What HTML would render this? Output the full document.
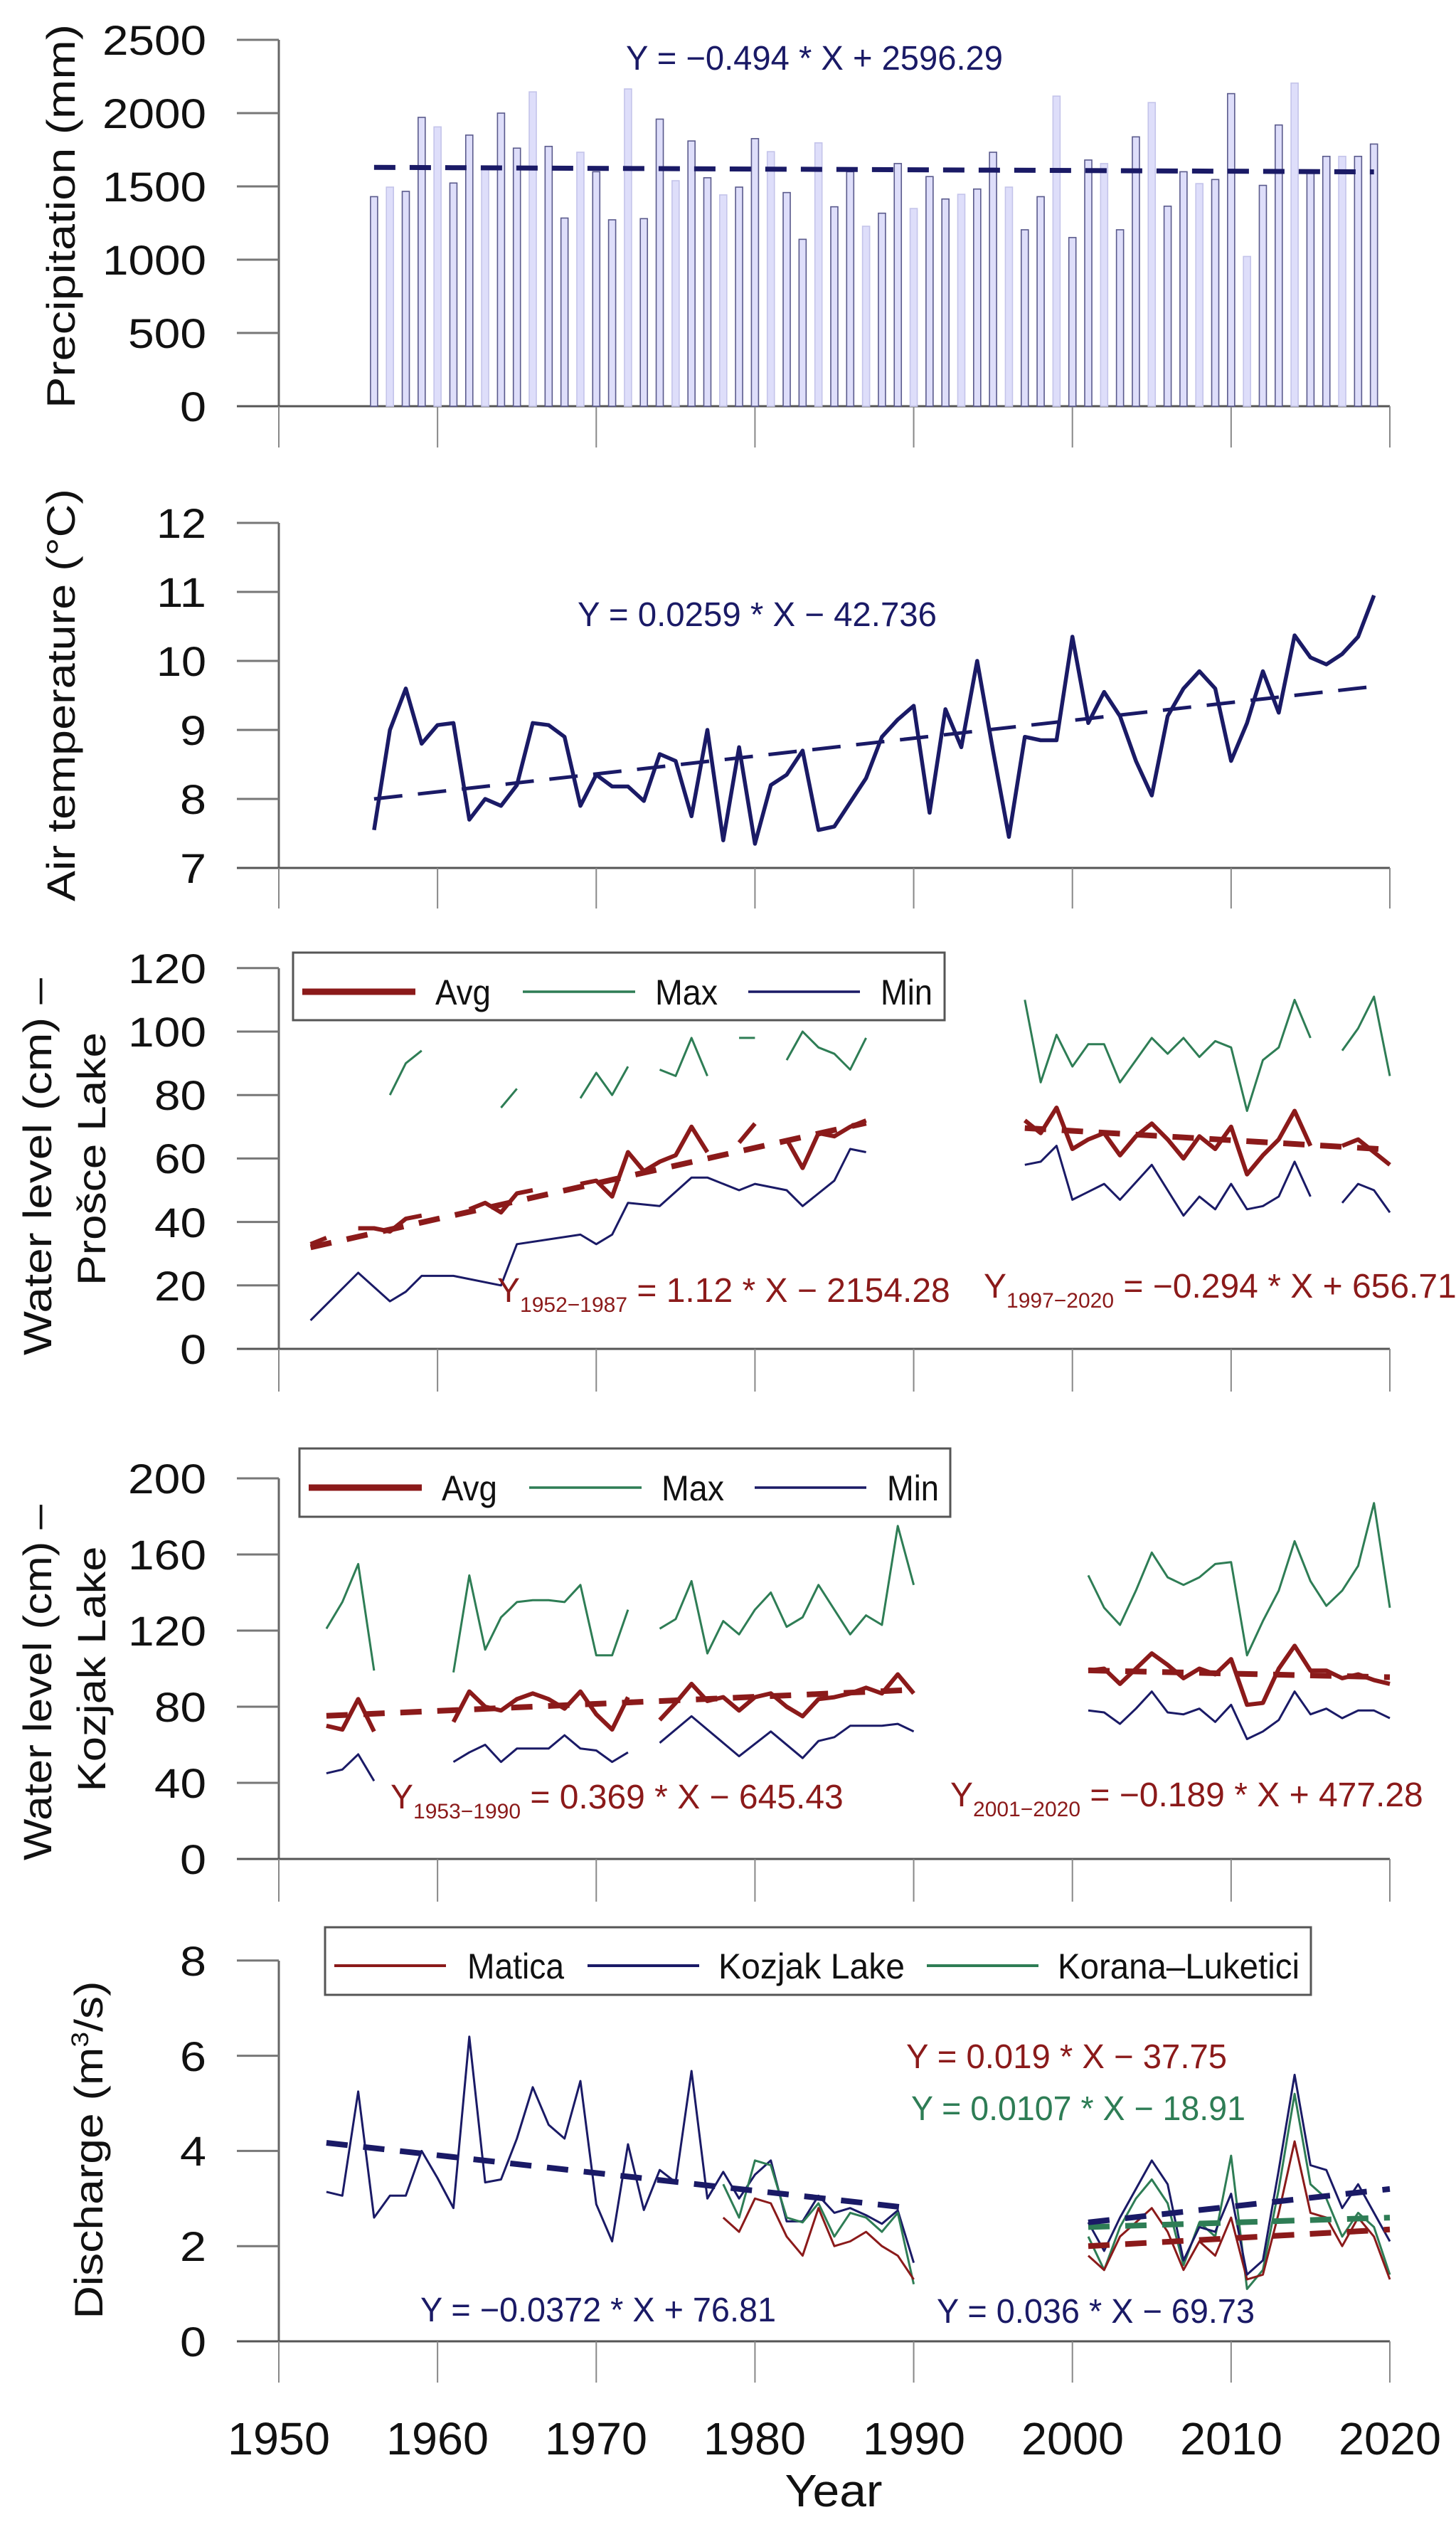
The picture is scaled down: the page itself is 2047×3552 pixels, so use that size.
<!DOCTYPE html>
<html><head><meta charset="utf-8"><style>
html,body{margin:0;padding:0;background:#fff;width:2047px;height:3552px;overflow:hidden}
svg{display:block}
text{font-family:"Liberation Sans",sans-serif}
.tk{font-size:58px;fill:#111;text-anchor:end}
.yr{font-size:64px;fill:#111;text-anchor:middle}
.at{font-size:56px;fill:#111;text-anchor:middle}
.eq{font-size:48px}
.lg{font-size:50px;fill:#111}
</style></head><body>
<svg id="s" width="2047" height="3552" viewBox="0 0 2047 3552" xmlns="http://www.w3.org/2000/svg">
<g id="g"></g>
<text class="tk" x="290" y="592" textLength="37" lengthAdjust="spacingAndGlyphs">0</text>
<text class="tk" x="290" y="489" textLength="110" lengthAdjust="spacingAndGlyphs">500</text>
<text class="tk" x="290" y="386" textLength="146" lengthAdjust="spacingAndGlyphs">1000</text>
<text class="tk" x="290" y="283" textLength="146" lengthAdjust="spacingAndGlyphs">1500</text>
<text class="tk" x="290" y="180" textLength="146" lengthAdjust="spacingAndGlyphs">2000</text>
<text class="tk" x="290" y="77" textLength="146" lengthAdjust="spacingAndGlyphs">2500</text>
<text class="tk" x="290" y="1241" textLength="37" lengthAdjust="spacingAndGlyphs">7</text>
<text class="tk" x="290" y="1144" textLength="37" lengthAdjust="spacingAndGlyphs">8</text>
<text class="tk" x="290" y="1047" textLength="37" lengthAdjust="spacingAndGlyphs">9</text>
<text class="tk" x="290" y="950" textLength="70" lengthAdjust="spacingAndGlyphs">10</text>
<text class="tk" x="290" y="853" textLength="70" lengthAdjust="spacingAndGlyphs">11</text>
<text class="tk" x="290" y="756" textLength="70" lengthAdjust="spacingAndGlyphs">12</text>
<text class="tk" x="290" y="1917" textLength="37" lengthAdjust="spacingAndGlyphs">0</text>
<text class="tk" x="290" y="1828" textLength="73" lengthAdjust="spacingAndGlyphs">20</text>
<text class="tk" x="290" y="1739" textLength="73" lengthAdjust="spacingAndGlyphs">40</text>
<text class="tk" x="290" y="1649" textLength="73" lengthAdjust="spacingAndGlyphs">60</text>
<text class="tk" x="290" y="1560" textLength="73" lengthAdjust="spacingAndGlyphs">80</text>
<text class="tk" x="290" y="1471" textLength="110" lengthAdjust="spacingAndGlyphs">100</text>
<text class="tk" x="290" y="1382" textLength="110" lengthAdjust="spacingAndGlyphs">120</text>
<text class="tk" x="290" y="2634" textLength="37" lengthAdjust="spacingAndGlyphs">0</text>
<text class="tk" x="290" y="2527" textLength="73" lengthAdjust="spacingAndGlyphs">40</text>
<text class="tk" x="290" y="2420" textLength="73" lengthAdjust="spacingAndGlyphs">80</text>
<text class="tk" x="290" y="2313" textLength="110" lengthAdjust="spacingAndGlyphs">120</text>
<text class="tk" x="290" y="2206" textLength="110" lengthAdjust="spacingAndGlyphs">160</text>
<text class="tk" x="290" y="2099" textLength="110" lengthAdjust="spacingAndGlyphs">200</text>
<text class="tk" x="290" y="3312" textLength="37" lengthAdjust="spacingAndGlyphs">0</text>
<text class="tk" x="290" y="3178" textLength="37" lengthAdjust="spacingAndGlyphs">2</text>
<text class="tk" x="290" y="3044" textLength="37" lengthAdjust="spacingAndGlyphs">4</text>
<text class="tk" x="290" y="2911" textLength="37" lengthAdjust="spacingAndGlyphs">6</text>
<text class="tk" x="290" y="2777" textLength="37" lengthAdjust="spacingAndGlyphs">8</text>
<text class="yr" x="392" y="3450" textLength="144" lengthAdjust="spacingAndGlyphs">1950</text>
<text class="yr" x="615" y="3450" textLength="144" lengthAdjust="spacingAndGlyphs">1960</text>
<text class="yr" x="838" y="3450" textLength="144" lengthAdjust="spacingAndGlyphs">1970</text>
<text class="yr" x="1061" y="3450" textLength="144" lengthAdjust="spacingAndGlyphs">1980</text>
<text class="yr" x="1285" y="3450" textLength="144" lengthAdjust="spacingAndGlyphs">1990</text>
<text class="yr" x="1508" y="3450" textLength="144" lengthAdjust="spacingAndGlyphs">2000</text>
<text class="yr" x="1731" y="3450" textLength="144" lengthAdjust="spacingAndGlyphs">2010</text>
<text class="yr" x="1954" y="3450" textLength="144" lengthAdjust="spacingAndGlyphs">2020</text>
<text class="yr" x="1172" y="3523" textLength="137" lengthAdjust="spacingAndGlyphs">Year</text>
<text class="at" transform="translate(105,304) rotate(-90)" textLength="540" lengthAdjust="spacingAndGlyphs">Precipitation (mm)</text>
<text class="at" transform="translate(105,977) rotate(-90)" textLength="580" lengthAdjust="spacingAndGlyphs">Air temperature (°C)</text>
<text class="at" transform="translate(72,1640) rotate(-90)" textLength="530" lengthAdjust="spacingAndGlyphs">Water level (cm) –</text>
<text class="at" transform="translate(148,1629) rotate(-90)" textLength="356" lengthAdjust="spacingAndGlyphs">Prošce Lake</text>
<text class="at" transform="translate(72,2365) rotate(-90)" textLength="500" lengthAdjust="spacingAndGlyphs">Water level (cm) –</text>
<text class="at" transform="translate(148,2346) rotate(-90)" textLength="345" lengthAdjust="spacingAndGlyphs">Kozjak Lake</text>
<text class="at" transform="translate(144,3022) rotate(-90)" textLength="475" lengthAdjust="spacingAndGlyphs">Discharge (m<tspan font-size="34" dy="-20">3</tspan><tspan dy="20">/s)</tspan></text>
<text class="eq" x="880" y="98" fill="#1a1a66" textLength="530" lengthAdjust="spacingAndGlyphs">Y = −0.494 * X + 2596.29</text>
<text class="eq" x="812" y="880" fill="#1a1a66" textLength="505" lengthAdjust="spacingAndGlyphs">Y = 0.0259 * X − 42.736</text>
<text class="eq" x="699" y="1830" fill="#8b1a1a" font-size="52">Y<tspan font-size="30" dy="14">1952−1987</tspan><tspan dy="-14"> = 1.12 * X − 2154.28</tspan></text>
<text class="eq" x="1383" y="1824" fill="#8b1a1a" font-size="52">Y<tspan font-size="30" dy="14">1997−2020</tspan><tspan dy="-14"> = −0.294 * X + 656.71</tspan></text>
<text class="eq" x="549" y="2542" fill="#8b1a1a" font-size="52">Y<tspan font-size="30" dy="14">1953−1990</tspan><tspan dy="-14"> = 0.369 * X − 645.43</tspan></text>
<text class="eq" x="1336" y="2539" fill="#8b1a1a" font-size="52">Y<tspan font-size="30" dy="14">2001−2020</tspan><tspan dy="-14"> = −0.189 * X + 477.28</tspan></text>
<text class="eq" x="1274" y="2907" fill="#8b1a1a" textLength="451" lengthAdjust="spacingAndGlyphs">Y = 0.019 * X − 37.75</text>
<text class="eq" x="1281" y="2980" fill="#2e7d55" textLength="470" lengthAdjust="spacingAndGlyphs">Y = 0.0107 * X − 18.91</text>
<text class="eq" x="591" y="3263" fill="#1a1a66" textLength="500" lengthAdjust="spacingAndGlyphs">Y = −0.0372 * X + 76.81</text>
<text class="eq" x="1317" y="3265" fill="#1a1a66" textLength="447" lengthAdjust="spacingAndGlyphs">Y = 0.036 * X − 69.73</text>
<rect x="412" y="1339" width="916" height="95" fill="#fff" stroke="#555" stroke-width="3"/>
<line x1="425" y1="1394" x2="584" y2="1394" stroke="#8b1a1a" stroke-width="9"/>
<text class="lg" x="612" y="1412" textLength="78" lengthAdjust="spacingAndGlyphs">Avg</text>
<line x1="735" y1="1394" x2="893" y2="1394" stroke="#2e7d55" stroke-width="3.5"/>
<text class="lg" x="921" y="1412" textLength="88" lengthAdjust="spacingAndGlyphs">Max</text>
<line x1="1052" y1="1394" x2="1209" y2="1394" stroke="#1a1a66" stroke-width="3.5"/>
<text class="lg" x="1238" y="1412" textLength="73" lengthAdjust="spacingAndGlyphs">Min</text>
<rect x="421" y="2036" width="915" height="96" fill="#fff" stroke="#555" stroke-width="3"/>
<line x1="434" y1="2091" x2="593" y2="2091" stroke="#8b1a1a" stroke-width="9"/>
<text class="lg" x="621" y="2109" textLength="78" lengthAdjust="spacingAndGlyphs">Avg</text>
<line x1="744" y1="2091" x2="902" y2="2091" stroke="#2e7d55" stroke-width="3.5"/>
<text class="lg" x="930" y="2109" textLength="88" lengthAdjust="spacingAndGlyphs">Max</text>
<line x1="1061" y1="2091" x2="1218" y2="2091" stroke="#1a1a66" stroke-width="3.5"/>
<text class="lg" x="1247" y="2109" textLength="73" lengthAdjust="spacingAndGlyphs">Min</text>
<rect x="457" y="2709" width="1386" height="95" fill="#fff" stroke="#555" stroke-width="3"/>
<line x1="470" y1="2763" x2="627" y2="2763" stroke="#8b1a1a" stroke-width="4"/>
<text class="lg" x="657" y="2781" textLength="136" lengthAdjust="spacingAndGlyphs">Matica</text>
<line x1="826" y1="2763" x2="983" y2="2763" stroke="#1a1a66" stroke-width="4"/>
<text class="lg" x="1010" y="2781" textLength="262" lengthAdjust="spacingAndGlyphs">Kozjak Lake</text>
<line x1="1303" y1="2763" x2="1460" y2="2763" stroke="#2e7d55" stroke-width="4"/>
<text class="lg" x="1487" y="2781" textLength="340" lengthAdjust="spacingAndGlyphs">Korana–Luketici</text>
</svg>
<script>
(function(){
var NS="http://www.w3.org/2000/svg",g=document.getElementById("g");
function el(t,a){var e=document.createElementNS(NS,t);for(var k in a)e.setAttribute(k,a[k]);g.appendChild(e);return e;}
function X(y){return 392+(y-1950)*22.314;}
var panels=[
 {ax:571,top:56,Y:function(v){return 571-v*0.206;},ticks:[0,500,1000,1500,2000,2500],tl:58},
 {ax:1220,top:735,Y:function(v){return 1220-(v-7)*97;},ticks:[7,8,9,10,11,12],tl:57},
 {ax:1896,top:1361,Y:function(v){return 1896-v*4.46;},ticks:[0,20,40,60,80,100,120],tl:60},
 {ax:2613,top:2078,Y:function(v){return 2613-v*2.675;},ticks:[0,40,80,120,160,200],tl:60},
 {ax:3291,top:2756,Y:function(v){return 3291-v*66.9;},ticks:[0,2,4,6,8],tl:58}];
panels.forEach(function(p){
 el("line",{x1:392,y1:p.top,x2:392,y2:p.ax,stroke:"#666","stroke-width":3});
 p.ticks.forEach(function(t){var y=p.Y(t);el("line",{x1:333,y1:y,x2:392,y2:y,stroke:"#777","stroke-width":3});});
 el("line",{x1:333,y1:p.ax,x2:1954,y2:p.ax,stroke:"#555","stroke-width":3});
 for(var d=1950;d<=2020;d+=10){var x=X(d);el("line",{x1:x,y1:p.ax,x2:x,y2:p.ax+p.tl,stroke:"#888","stroke-width":2});}
});
function line(pts,P,c,w,dash){
 var d="";pts.forEach(function(q,i){d+=(i?"L":"M")+X(q[0]).toFixed(1)+","+P.Y(q[1]).toFixed(1);});
 var a={d:d,fill:"none",stroke:c,"stroke-width":w,"stroke-linejoin":"round"};if(dash)a["stroke-dasharray"]=dash;el("path",a);}
function seq(start,vals){return vals.map(function(v,i){return [start+i,v];});}
var R="#8b1a1a",N="#1a1a66",G="#2e7d55";
var pr=[1430,1495,1466,1971,1906,1523,1850,1636,2000,1761,2145,1773,1284,1733,1600,1272,2165,1280,1959,1539,1810,1559,1442,1495,1826,1737,1458,1139,1797,1361,1600,1228,1317,1656,1349,1567,1414,1446,1482,1733,1495,1204,1430,2116,1151,1680,1656,1204,1838,2072,1365,1600,1519,1547,2133,1022,1507,1919,2205,1600,1705,1705,1705,1789];
pr.forEach(function(v,i){var yr=1956+i,x=X(yr),y=panels[0].Y(v);
 el("rect",{x:x-5,y:y,width:10,height:571-y,fill:"#dedefa",stroke:(i%3==1?"#c4c4ea":"#5a5a8c"),"stroke-width":1.6});});
line([[1956,2596.29-0.494*1956],[2019,2596.29-0.494*2019]],panels[0],N,7,"30 20");
var tp=[7.55,9.0,9.6,8.8,9.07,9.1,7.7,8.0,7.9,8.2,9.1,9.07,8.9,7.9,8.35,8.18,8.18,7.97,8.65,8.55,7.75,9.0,7.4,8.75,7.35,8.2,8.35,8.7,7.55,7.6,7.95,8.3,8.9,9.15,9.35,7.8,9.3,8.75,10.0,8.7,7.45,8.9,8.85,8.85,10.35,9.1,9.55,9.2,8.55,8.05,9.2,9.6,9.85,9.6,8.55,9.1,9.85,9.25,10.37,10.05,9.95,10.1,10.35,10.95];
line([[1956,8.0],[2019,9.63]],panels[1],N,5,"40 22");
line(seq(1956,tp),panels[1],N,5.5);
var P3=panels[2];
line([[1952,9],[1955,24],[1957,15],[1958,18],[1959,23],[1961,23],[1964,20],[1965,33],[1969,36],[1970,33],[1971,36],[1972,46],[1974,45],[1976,54],[1977,54],[1979,50],[1980,52],[1982,50],[1983,45],[1985,53],[1986,63],[1987,62]],P3,N,3);
line([[1997,58],[1998,59],[1999,64],[2000,47],[2002,52],[2003,47],[2005,58],[2007,42],[2008,48],[2009,44],[2010,52],[2011,44],[2012,45],[2013,48],[2014,59],[2015,48]],P3,N,3);
line([[2017,46],[2018,52],[2019,50],[2020,43]],P3,N,3);
[[[1957,80],[1958,90],[1959,94]],[[1964,76],[1965,82]],[[1969,79],[1970,87],[1971,80],[1972,89]],[[1974,88],[1975,86],[1976,98],[1977,86]],[[1979,98],[1980,98]],[[1982,91],[1983,100],[1984,95],[1985,93],[1986,88],[1987,98]],
 [[1997,110],[1998,84],[1999,99],[2000,89],[2001,96],[2002,96],[2003,84],[2004,91],[2005,98],[2006,93],[2007,98],[2008,92],[2009,97],[2010,95],[2011,75],[2012,91],[2013,95],[2014,110],[2015,98]],[[2017,94],[2018,101],[2019,111],[2020,86]]].forEach(function(s){line(s,P3,G,3);});
[[[1952,33],[1953,35]],[[1955,38],[1956,38],[1957,37],[1958,41],[1959,42]],[[1962,44],[1963,46],[1964,43],[1965,49],[1966,50]],[[1969,52],[1970,53],[1971,48],[1972,62],[1973,56],[1974,59],[1975,61],[1976,70],[1977,62]],[[1979,65],[1980,71]],[[1982,66],[1983,57],[1984,68],[1985,67],[1986,70],[1987,72]],
 [[1997,72],[1998,68],[1999,76],[2000,63],[2001,66],[2002,68],[2003,61],[2004,67],[2005,71],[2006,66],[2007,60],[2008,67],[2009,63],[2010,70],[2011,55],[2012,61],[2013,66],[2014,75],[2015,64]],[[2017,64],[2018,66],[2019,62],[2020,58]]].forEach(function(s){line(s,P3,R,6);});
line([[1952,32],[1987,71.2]],P3,R,8,"30 22");
line([[1997,69.6],[2020,62.8]],P3,R,8,"30 22");
var P4=panels[3];
[[[1953,121],[1954,135],[1955,155],[1956,99]],seq(1961,[98,149,110,127,135,136,136,135,144,107,107,131]),seq(1974,[121,126,146,108,125,118,131,140,122,127,144,131,118,128,123,175,144]),seq(2001,[149,132,123,141,161,148,144,148,155,156,107,125,141,167,146,133,141,154,187,132])].forEach(function(s){line(s,P4,G,3);});
[[[1953,45],[1954,47],[1955,55],[1956,41]],seq(1961,[51,56,60,51,58,58,58,65,58,57,51,56]),[[1974,61],[1976,75],[1977,68],[1979,54],[1981,67],[1983,53],[1984,62],[1985,64],[1986,70],[1988,70],[1989,71],[1990,67]],seq(2001,[78,77,71,79,88,77,76,79,72,81,63,67,73,88,76,79,74,78,78,74])].forEach(function(s){line(s,P4,N,3);});
[seq(1953,[70,68,84,67]),seq(1961,[72,88,80,78,84,87,84,79,88,76,68,85]),seq(1974,[73,82,92,83,85,78,85,87,80,75,84,85,87,90,87,97,87]),seq(2001,[99,100,92,100,108,102,95,100,97,105,81,82,100,112,99,99,95,97,94,92])].forEach(function(s){line(s,P4,R,6);});
line([[1953,75.2],[1990,88.9]],P4,R,8,"30 22");
line([[2001,99.1],[2020,95.5]],P4,R,8,"30 22");
var P5=panels[4];
line(seq(1953,[3.14,3.06,5.25,2.6,3.06,3.06,4.0,3.43,2.8,6.4,3.34,3.4,4.26,5.34,4.55,4.26,5.47,2.88,2.1,4.14,2.76,3.6,3.34,5.68,3.0,3.56,3.0,3.5,3.8,2.52,2.52,3.06,2.7,2.8,2.65,2.47,2.75,1.65]),P5,N,3);
line(seq(1978,[3.3,2.6,3.8,3.7,2.6,2.5,2.9,2.2,2.7,2.6,2.3,2.7,1.2]),P5,G,3);
line(seq(1978,[2.6,2.3,3.0,2.9,2.2,1.8,2.8,2.0,2.1,2.3,2.0,1.8,1.3]),P5,R,3);
line(seq(2001,[2.2,1.5,2.4,3.0,3.4,2.9,1.6,2.5,2.2,3.9,1.1,1.5,3.2,5.2,3.3,3.0,2.2,2.7,2.4,1.4]),P5,G,3);
line(seq(2001,[1.8,1.5,2.2,2.5,2.8,2.3,1.5,2.1,1.8,2.6,1.3,1.4,2.7,4.2,2.7,2.6,2.0,2.6,2.2,1.3]),P5,R,3);
line(seq(2001,[2.5,1.9,2.6,3.2,3.8,3.3,1.7,2.4,2.3,3.1,1.4,1.7,3.6,5.6,3.7,3.6,2.8,3.3,2.7,2.1]),P5,N,3);
line([[1953,4.17],[1990,2.79]],P5,N,8,"30 22");
line([[2001,2.0],[2020,2.35]],P5,R,8,"30 22");
line([[2001,2.4],[2020,2.6]],P5,G,8,"30 22");
line([[2001,2.5],[2020,3.2]],P5,N,8,"30 22");
})();
</script>
</body></html>
